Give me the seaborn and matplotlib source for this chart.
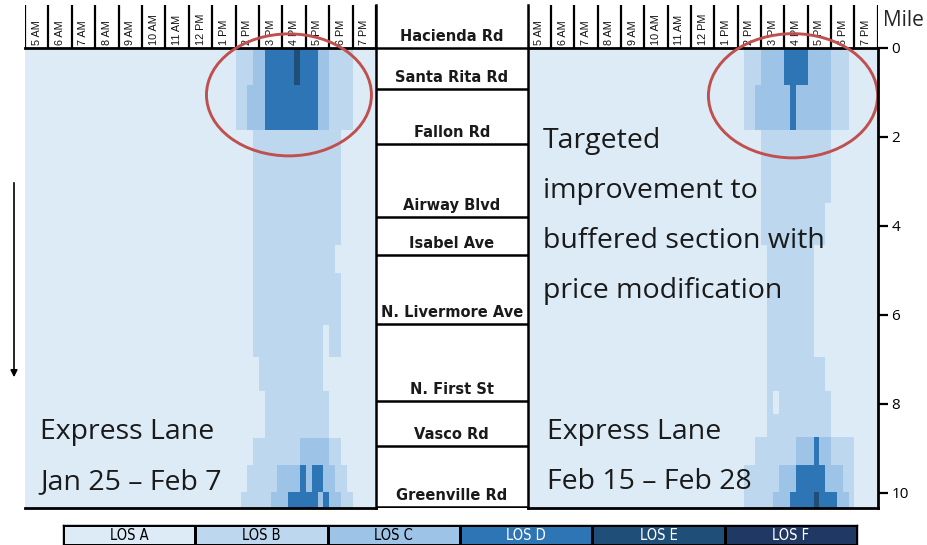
import numpy as np
import matplotlib
matplotlib.use("Agg")
import matplotlib.pyplot as plt
import seaborn as sns
from matplotlib.colors import ListedColormap
from matplotlib.patches import Ellipse, FancyArrowPatch

# ---------------- data ----------------
hour_labels = ["5 AM", "6 AM", "7 AM", "8 AM", "9 AM", "10 AM", "11 AM", "12 PM",
               "1 PM", "2 PM", "3 PM", "4 PM", "5 PM", "6 PM", "7 PM"]
start_hour = 5
bins_per_hour = 4

los_labels = ["LOS A", "LOS B", "LOS C", "LOS D", "LOS E", "LOS F"]
los_codes = "ABCDEF"
los_colors = ["#DDEBF7", "#BDD7EE", "#9DC3E6", "#2E75B6", "#1F4E79", "#203864"]
los_text_colors = ["black", "black", "black", "white", "white", "white"]

road_names = ["Hacienda Rd", "Santa Rita Rd", "Fallon Rd", "Airway Blvd", "Isabel Ave",
              "N. Livermore Ave", "N. First St", "Vasco Rd", "Greenville Rd"]
road_miles = [0.0, 0.935, 2.16, 3.80, 4.66, 6.21, 7.94, 8.94, 10.31]
corridor_end = 10.34
mile_ticks = [0, 2, 4, 6, 8, 10]

# LOS per 15-min bin (5 AM - 8 PM), one group of 4 per hour, for mile bands
left_edges = [0.0, 0.84, 1.85, 4.44, 5.07, 6.23, 6.94, 7.72, 8.76, 9.38, 9.98, 10.34]
left_los = [
    "AAAA AAAA AAAA AAAA AAAA AAAA AAAA AAAA AAAA BBBC CDDD DDED DDCC BBBB AAAA",
    "AAAA AAAA AAAA AAAA AAAA AAAA AAAA AAAA AAAA BBCC CDDD DDDD DDCC BBBB AAAA",
    "AAAA AAAA AAAA AAAA AAAA AAAA AAAA AAAA AAAA AAAB BBBB BBBB BBBB BBAA AAAA",
    "AAAA AAAA AAAA AAAA AAAA AAAA AAAA AAAA AAAA AAAB BBBB BBBB BBBB BAAA AAAA",
    "AAAA AAAA AAAA AAAA AAAA AAAA AAAA AAAA AAAA AAAB BBBB BBBB BBBB BBAA AAAA",
    "AAAA AAAA AAAA AAAA AAAA AAAA AAAA AAAA AAAA AAAB BBBB BBBB BBBA BBAA AAAA",
    "AAAA AAAA AAAA AAAA AAAA AAAA AAAA AAAA AAAA AAAA BBBB BBBB BBBA AAAA AAAA",
    "AAAA AAAA AAAA AAAA AAAA AAAA AAAA AAAA AAAA AAAA ABBB BBBB BBBB AAAA AAAA",
    "AAAA AAAA AAAA AAAA AAAA AAAA AAAA AAAA AAAA AAAB BBBB BBBC CCCC BBAA AAAA",
    "AAAA AAAA AAAA AAAA AAAA AAAA AAAA AAAA AAAA AABB BBBC CCCD CDDC CBBA AAAA",
    "AAAA AAAA AAAA AAAA AAAA AAAA AAAA AAAA AAAA ABBB BBCC CDDD DDCD CCBB AAAA",
]

right_edges = [0.0, 0.84, 1.85, 3.48, 4.44, 6.94, 7.72, 8.22, 8.74, 9.38, 9.98, 10.34]
right_los = [
    "AAAA AAAA AAAA AAAA AAAA AAAA AAAA AAAA AAAA ABBB CCCC DDDD CCCC BBBA AAAA",
    "AAAA AAAA AAAA AAAA AAAA AAAA AAAA AAAA AAAA ABBC CCCC CDCC CCCC BBBA AAAA",
    "AAAA AAAA AAAA AAAA AAAA AAAA AAAA AAAA AAAA AAAA BBBB BBBB BBBB AAAA AAAA",
    "AAAA AAAA AAAA AAAA AAAA AAAA AAAA AAAA AAAA AAAA BBBB BBBB BBBA AAAA AAAA",
    "AAAA AAAA AAAA AAAA AAAA AAAA AAAA AAAA AAAA AAAA ABBB BBBB BAAA AAAA AAAA",
    "AAAA AAAA AAAA AAAA AAAA AAAA AAAA AAAA AAAA AAAA ABBB BBBB BBBA AAAA AAAA",
    "AAAA AAAA AAAA AAAA AAAA AAAA AAAA AAAA AAAA AAAA ABAB BBBB BBBB AAAA AAAA",
    "AAAA AAAA AAAA AAAA AAAA AAAA AAAA AAAA AAAA AAAA ABBB BBBB BBBB AAAA AAAA",
    "AAAA AAAA AAAA AAAA AAAA AAAA AAAA AAAA AAAA AAAB BBBB BBCC CDCC BBBB AAAA",
    "AAAA AAAA AAAA AAAA AAAA AAAA AAAA AAAA AAAA ABBB BBBC CCDD DDDC CCBB AAAA",
    "AAAA AAAA AAAA AAAA AAAA AAAA AAAA AAAA AAAA ABBB BBCC CDDD DEDD DCCB AAAA",
]

panel_titles = [("Express Lane", "Jan 25 \u2013 Feb 7"), ("Express Lane", "Feb 15 \u2013 Feb 28")]
note_lines = ["Targeted", "improvement to", "buffered section with", "price modification"]


# ---------------- helpers ----------------
def build_grid(edges, rows, res=0.01):
    nrows = int(round(edges[-1] / res))
    ncols = len(rows[0].replace(" ", ""))
    grid = np.zeros((nrows, ncols))
    for i, r in enumerate(rows):
        vals = [los_codes.index(c) for c in r.replace(" ", "")]
        r0 = int(round(edges[i] / res))
        r1 = int(round(edges[i + 1] / res))
        grid[r0:r1, :] = vals
    return grid


W, H = 927, 545


def rect(x0, y0, x1, y1):
    return [x0 / W, 1 - y1 / H, (x1 - x0) / W, (y1 - y0) / H]


sns.set_theme(style="white")
plt.rcParams["font.family"] = ["DejaVu Sans"]

fig = plt.figure(figsize=(W / 100, H / 100), dpi=100)
fig.patch.set_facecolor("white")

cmap = ListedColormap(los_colors)
YH, YT, YB = 5, 47.7, 508
panels = [(25, 376, left_edges, left_los), (527.7, 877.7, right_edges, right_los)]
n_hours = len(hour_labels)
end_hour = start_hour + n_hours

overlays = []
for k, (x0, x1, edges, rows) in enumerate(panels):
    grid = build_grid(edges, rows)
    ax = fig.add_axes(rect(x0, YT, x1, YB))
    sns.heatmap(grid, ax=ax, cmap=cmap, vmin=-0.5, vmax=5.5, cbar=False,
                xticklabels=False, yticklabels=False, rasterized=True)
    for s in ax.spines.values():
        s.set_visible(False)
    for s in ["top", "bottom"]:
        ax.spines[s].set_visible(True)
        ax.spines[s].set_linewidth(2)
        ax.spines[s].set_color("black")

    # header with hour labels
    hx = fig.add_axes(rect(x0, YH, x1, YT))
    hx.set_xlim(start_hour, end_hour)
    hx.set_ylim(0, 1)
    hx.axis("off")
    hours = np.arange(start_hour, end_hour + 1)
    hx.vlines(hours, 0, 1, color="black", lw=1.6)
    for i, lab in enumerate(hour_labels):
        hx.text(start_hour + i + 0.5, 0.06, lab, rotation=90, ha="center", va="bottom",
                fontsize=7.8, color="#111111", family=["Liberation Sans", "DejaVu Sans"])

    # overlay in hour / mile coordinates
    ov = fig.add_axes(rect(x0, YT, x1, YB), facecolor="none")
    ov.set_xlim(start_hour, end_hour)
    ov.set_ylim(corridor_end, 0)
    overlays.append(ov)

# ellipses
ovL, ovR = overlays
ovL.add_patch(Ellipse((16.28, 1.06), 7.05, 2.74, fill=False, ec="#C0504D", lw=2.1, clip_on=False))
ovR.add_patch(Ellipse((16.37, 1.08), 7.25, 2.79, fill=False, ec="#C0504D", lw=2.1, clip_on=False))
ovL.axis("off")

# mile axis on the right panel
for s in ["left", "top", "bottom"]:
    ovR.spines[s].set_visible(False)
ovR.spines["right"].set_visible(True)
ovR.spines["right"].set_color("black")
ovR.spines["right"].set_linewidth(2)
ovR.set_xticks([])
ovR.yaxis.tick_right()
ovR.set_yticks(mile_ticks)
ovR.set_yticklabels([str(m) for m in mile_ticks], family=["Open Sans", "DejaVu Sans"])
ovR.tick_params(axis="y", direction="out", length=7, width=1.6, labelsize=11,
                pad=3, colors="black", right=True, left=False)
fig.text(903 / W, 1 - 20 / H, "Mile", ha="center", va="center", fontsize=15,
         family=["Open Sans", "DejaVu Sans"])

# middle column with road names
mx = fig.add_axes(rect(376, YH, 527.7, YB))
mx.set_xlim(0, 1)
top_mile = (YH - YT) / ((YB - YT) / corridor_end)
mx.set_ylim(corridor_end, top_mile)
mx.set_xticks([])
mx.set_yticks([])
mx.set_facecolor("white")
for s in ["left", "right"]:
    mx.spines[s].set_visible(True)
    mx.spines[s].set_color("black")
    mx.spines[s].set_linewidth(1.8)
mx.spines["top"].set_visible(False)
mx.spines["bottom"].set_visible(False)
mx.hlines(road_miles, 0, 1, color="black", lw=1.8)
for name, m in zip(road_names, road_miles):
    mx.text(0.5, m - 0.16, name, ha="center", va="baseline", fontsize=10.5,
            fontweight="bold", color="#1a1a1a")
mx.hlines([corridor_end], 0, 1, color="black", lw=2)

# panel texts
big = dict(fontsize=20.5, color="#1a1a1a", family=["Open Sans", "DejaVu Sans"], va="center")
fig.text(40 / W, 1 - 432 / H, panel_titles[0][0], **big)
fig.text(40 / W, 1 - 482 / H, panel_titles[0][1], **big)
fig.text(547 / W, 1 - 432 / H, panel_titles[1][0], **big)
fig.text(547 / W, 1 - 482 / H, panel_titles[1][1], **big)
for i, line in enumerate(note_lines):
    fig.text(543 / W, 1 - (141 + 50 * i) / H, line, **big)

# direction arrow
fig.add_artist(FancyArrowPatch(
    (14 / W, 1 - 180 / H), (14 / W, 1 - 380 / H), transform=fig.transFigure,
    arrowstyle="-|>", mutation_scale=10, color="black", lw=1.2))

# legend strip
lg = fig.add_axes(rect(63, 525, 857, 545))
sns.heatmap(np.arange(len(los_labels)).reshape(1, -1), ax=lg, cmap=cmap, vmin=-0.5,
            vmax=5.5, cbar=False, xticklabels=False, yticklabels=False,
            linewidths=1, linecolor="black")
for s in lg.spines.values():
    s.set_visible(True)
    s.set_color("black")
    s.set_linewidth(1)
for i, (lab, tc) in enumerate(zip(los_labels, los_text_colors)):
    lg.text(i + 0.5, 0.5, lab, ha="center", va="center", fontsize=10.5, color=tc,
            family=["DejaVu Sans"], fontstretch="condensed")

fig.savefig("out.png", dpi=100)
